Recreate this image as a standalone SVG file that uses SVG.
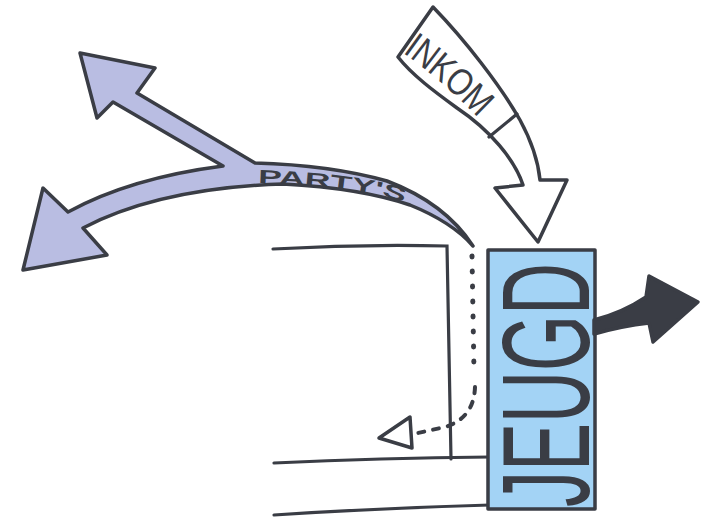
<svg xmlns="http://www.w3.org/2000/svg" width="706" height="518" viewBox="0 0 706 518">
<defs>
<style>
.ink{stroke:#3a3d45;stroke-width:3.5;stroke-linejoin:round;stroke-linecap:round}
.line{fill:none;stroke:#3a3d45;stroke-width:3.2;stroke-linecap:round}
.lbl{font-family:"Liberation Sans Narrow","Liberation Sans",sans-serif;fill:#3a3d45}
</style>
<path id="pInkom" d="M410,42 Q458,76 500,122"/>
<path id="pParty" d="M258,176 Q330,178 380,188 Q398,192 414,200"/>
</defs>
<rect width="706" height="518" fill="#ffffff"/>

<g id="room">
<path class="line" d="M273,249 Q360,244 447,246 L451,459"/>
<path class="line" d="M274,463 Q380,458 490,457"/>
<path class="line" d="M274,515 Q380,508 490,505"/>
</g>

<g id="connectors">
<path d="M472,256 L474,372" fill="none" stroke="#3a3d45" stroke-width="5" stroke-linecap="round" stroke-dasharray="1,14"/>
<path d="M475,387 Q474,418 445,427 L418,433" fill="none" stroke="#3a3d45" stroke-width="4" stroke-linecap="round" stroke-dasharray="6,9"/>
<path class="ink" fill="#ffffff" d="M379,438 L410,417 L412,448 Z"/>
</g>

<g id="partys">
<path class="ink" fill="#b9bde2" d="M473,246 Q445,203 387,181 Q330,165 255,163 L137,93 L155,68 L80,53 L97,118 L113,102 L223,166 Q130,178 68,212 L43,188 L23,270 L107,255 L83,228 Q160,188 283,184 Q360,188 410,205 Q452,222 473,246 Z"/>
<text class="lbl" font-size="19" font-weight="bold" dominant-baseline="central"><textPath href="#pParty" textLength="150" lengthAdjust="spacingAndGlyphs">PARTY'S</textPath></text>
</g>

<g id="inkom">
<path class="ink" fill="#ffffff" d="M433,7 C465,40 500,85 520,120 C532,142 538,160 540,180 L567,180 L538,242 L495,188 L523,185 C515,160 490,130 457,108 C435,92 412,75 398,57 Z"/>
<text class="lbl" font-size="38" dominant-baseline="central"><textPath href="#pInkom" textLength="102" lengthAdjust="spacingAndGlyphs">INKOM</textPath></text>
<path class="line" d="M489,137 L517,114"/>
</g>

<g id="jeugd">
<rect class="ink" x="488" y="250" width="107" height="259" fill="#a3d3f5"/>
<text class="lbl" transform="translate(541,385) rotate(-90)" x="-122" y="48" font-size="124" textLength="244" lengthAdjust="spacingAndGlyphs">JEUGD</text>
</g>

<g id="out">
<path class="ink" fill="#3a3d45" stroke-width="2" d="M594,320 Q622,313 646,297 L649,276 L698,302 L653,342 L649,323 Q622,326 594,334 Z"/>
</g>
</svg>
